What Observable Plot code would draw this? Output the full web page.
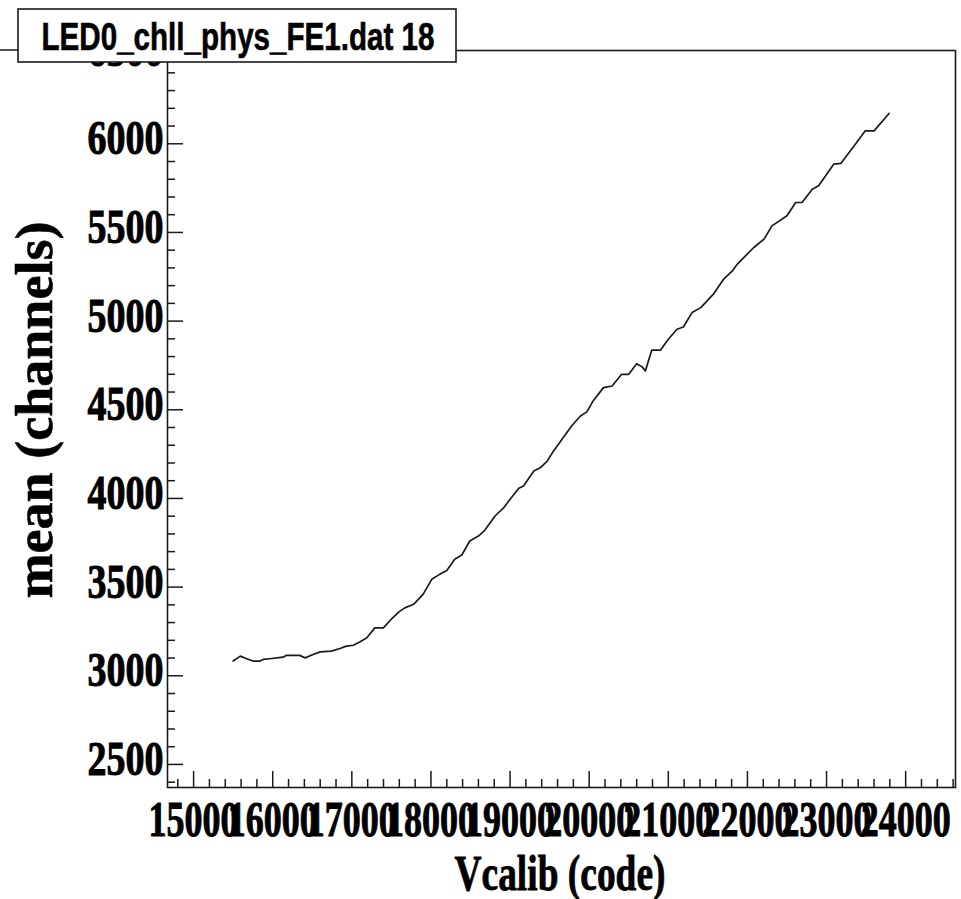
<!DOCTYPE html>
<html>
<head>
<meta charset="utf-8">
<script src="https://cdn.jsdelivr.net/npm/d3@7"></script>
<script src="https://cdn.jsdelivr.net/npm/@observablehq/plot@0.6"></script>
<style>
  html, body { margin: 0; padding: 0; background: #fff; }
  svg { display: block; }
</style>
</head>
<body>
<div id="chart"></div>
<script>
// ---- data ----
const vcalib = [15500,15590,15670,15750,15840,15880,15960,16130,16170,16340,16410,16510,16600,16740,16850,16930,17020,17100,17190,17290,17400,17500,17600,17670,17780,17900,18010,18110,18200,18300,18390,18490,18600,18680,18810,18920,19000,19110,19170,19300,19380,19470,19550,19650,19780,19890,19970,20050,20180,20290,20410,20500,20600,20670,20710,20790,20900,21000,21110,21190,21300,21410,21490,21570,21700,21810,21870,22080,22210,22310,22500,22610,22690,22820,22900,23090,23180,23350,23490,23600,23790];
const meanCh = [3083,3111,3096,3083,3083,3092,3096,3105,3115,3115,3101,3120,3135,3139,3154,3167,3172,3191,3214,3270,3270,3320,3362,3383,3403,3459,3544,3572,3594,3657,3681,3760,3788,3820,3901,3948,3995,4057,4070,4155,4173,4211,4268,4330,4410,4465,4488,4550,4625,4634,4700,4700,4760,4742,4719,4836,4836,4898,4954,4967,5048,5076,5114,5152,5237,5283,5320,5415,5462,5537,5594,5669,5669,5744,5763,5885,5889,5989,6073,6073,6171];

const xMajorTicks = [15000,16000,17000,18000,19000,20000,21000,22000,23000,24000];
const xMinorTicks = [14800,15200,15400,15600,15800,16200,16400,16600,16800,17200,17400,17600,17800,18200,18400,18600,18800,19200,19400,19600,19800,20200,20400,20600,20800,21200,21400,21600,21800,22200,22400,22600,22800,23200,23400,23600,23800,24200,24400,24600];
const yMajorTicks = [2500,3000,3500,4000,4500,5000,5500,6000,6500];
const yMinorTicks = [2400,2600,2700,2800,2900,3100,3200,3300,3400,3600,3700,3800,3900,4100,4200,4300,4400,4600,4700,4800,4900,5100,5200,5300,5400,5600,5700,5800,5900,6100,6200,6300,6400];

const titleText = "LED0_chll_phys_FE1.dat 18";
const xTitle = "Vcalib (code)";
const yTitle = "mean (channels)";

const rows = vcalib.map((v, i) => ({vcalib: v, mean: meanCh[i]}));

const W = 961, H = 899;
const mL = 167, mT = 50, mR = 6, mB = 112;
const innerW = W - mL - mR, innerH = H - mT - mB;
const serif = "'Liberation Serif', 'Times New Roman', serif";
const ink = "#1a1a1a";

const chart = Plot.plot({
  width: W, height: H,
  marginLeft: mL, marginTop: mT, marginRight: mR, marginBottom: mB,
  x: {domain: [14670, 24630]},
  y: {domain: [2370, 6526]},
  style: {background: "white", overflow: "visible"},
  marks: [
    Plot.tickX(xMajorTicks, {x: d => d, insetTop: innerH - 16, stroke: ink, strokeWidth: 1.5}),
    Plot.tickX(xMinorTicks, {x: d => d, insetTop: innerH - 8, stroke: ink, strokeWidth: 1.5}),
    Plot.tickY(yMajorTicks, {y: d => d, insetRight: innerW - 16, stroke: ink, strokeWidth: 1.5}),
    Plot.tickY(yMinorTicks, {y: d => d, insetRight: innerW - 8, stroke: ink, strokeWidth: 1.5}),
    Plot.axisX({ticks: xMajorTicks, tickSize: 0, tickPadding: 13, tickFormat: d => String(d),
      fontSize: 50, fontWeight: "bold", fontFamily: serif, fill: "#000", label: null}),
    Plot.axisY({ticks: yMajorTicks, tickSize: 0, tickPadding: 4, dy: -5, tickFormat: d => String(d),
      fontSize: 49, fontWeight: "bold", fontFamily: serif, fill: "#000", label: null}),
    Plot.line(rows, {x: "vcalib", y: "mean", stroke: ink, strokeWidth: 1.7}),
    Plot.frame({stroke: ink, strokeWidth: 1.6})
  ]
});

document.getElementById("chart").appendChild(chart);

const svg = d3.select(chart);
svg.selectAll('g[aria-label="x-axis tick label"] text')
  .attr("textLength", 90).attr("lengthAdjust", "spacingAndGlyphs")
  .attr("stroke", "#000").attr("stroke-width", 1);
svg.selectAll('g[aria-label="y-axis tick label"] text')
  .attr("textLength", 76).attr("lengthAdjust", "spacingAndGlyphs")
  .attr("stroke", "#000").attr("stroke-width", 1);

// axis titles
svg.append("text")
  .attr("x", 560).attr("y", 890)
  .attr("text-anchor", "middle")
  .attr("font-family", serif).attr("font-weight", "bold").attr("font-size", 50)
  .attr("textLength", 211).attr("lengthAdjust", "spacingAndGlyphs")
  .attr("fill", "#000").attr("stroke", "#000").attr("stroke-width", 0.8)
  .text(xTitle);

svg.append("text")
  .attr("transform", "translate(52,410) rotate(-90)")
  .attr("text-anchor", "middle")
  .attr("font-family", serif).attr("font-weight", "bold").attr("font-size", 52)
  .attr("textLength", 377).attr("lengthAdjust", "spacingAndGlyphs")
  .attr("fill", "#000").attr("stroke", "#000").attr("stroke-width", 0.6)
  .text(yTitle);

// pad line at top-left and title box
svg.append("line")
  .attr("x1", 0).attr("x2", mL).attr("y1", mT).attr("y2", mT)
  .attr("stroke", ink).attr("stroke-width", 1.5);

svg.append("rect")
  .attr("x", 18).attr("y", 9).attr("width", 438).attr("height", 53)
  .attr("fill", "white").attr("stroke", ink).attr("stroke-width", 1.6);

svg.append("text")
  .attr("x", 238).attr("y", 50)
  .attr("text-anchor", "middle")
  .attr("font-family", "'Liberation Sans', Arial, sans-serif").attr("font-weight", "bold").attr("font-size", 39)
  .attr("textLength", 393).attr("lengthAdjust", "spacingAndGlyphs")
  .attr("fill", "#000").attr("stroke", "#000").attr("stroke-width", 0.6)
  .text(titleText);
</script>
</body>
</html>
